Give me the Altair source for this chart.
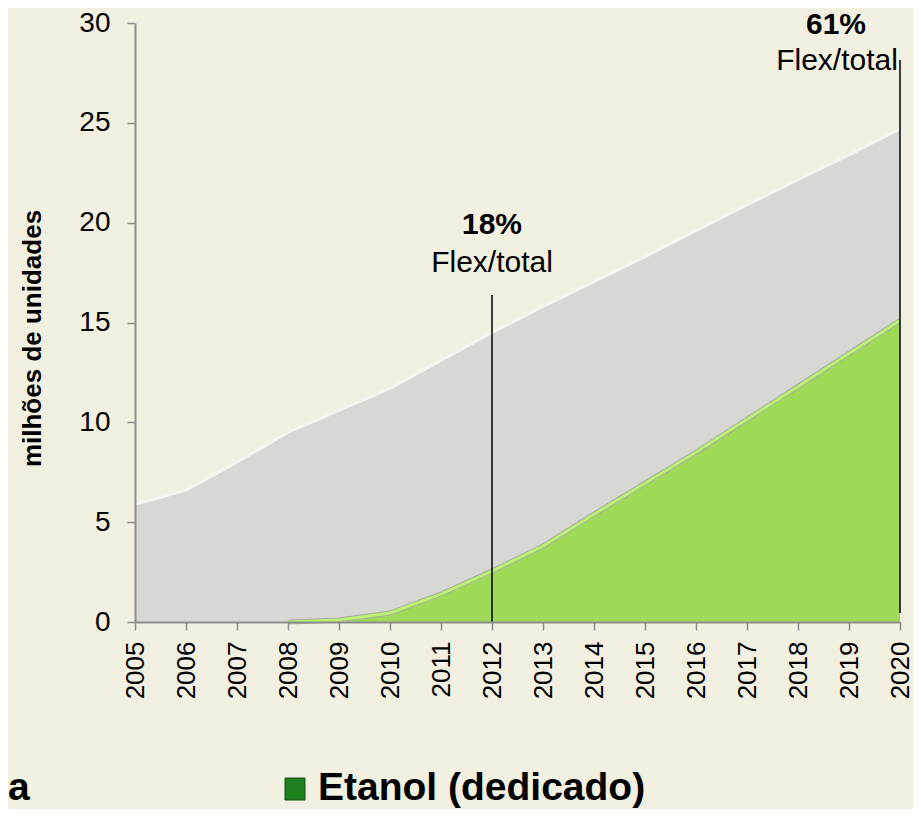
import altair as alt
import pandas as pd

# ---- data ----
years = [2005, 2006, 2007, 2008, 2009, 2010, 2011, 2012,
         2013, 2014, 2015, 2016, 2017, 2018, 2019, 2020]
total_fleet = [5.9, 6.6, 8.0, 9.5, 10.6, 11.7, 13.1, 14.5,
               15.8, 17.05, 18.3, 19.6, 20.9, 22.15, 23.4, 24.7]
flex_fleet = [0.0, 0.0, 0.0, 0.0, 0.1, 0.45, 1.4, 2.55,
              3.8, 5.4, 6.95, 8.5, 10.15, 11.8, 13.45, 15.1]
y_ticks = [0, 5, 10, 15, 20, 25, 30]
ann_years = [2012, 2020]
ann_pct = ["18%", "61%"]
ann_label = ["Flex/total", "Flex/total"]
legend_labels = ["a", "Etanol (dedicado)"]

df = pd.DataFrame({"ano": years, "total": total_fleet, "flex": flex_fleet})
ann = pd.DataFrame({"ano": ann_years, "pct": ann_pct, "label": ann_label})
leg = pd.DataFrame({"label": legend_labels})

W, H = 765, 599
LEFT = 127
FONT = "Liberation Sans, Arial, Helvetica, sans-serif"
NARROW = "Liberation Sans Narrow, Arial Narrow, Liberation Sans, sans-serif"
BG = "#F2F0E0"
AXC = "#8C8C8C"

xscale = alt.Scale(domain=[2005, 2020], nice=False, zero=False)
yscale = alt.Scale(domain=[0, 30], nice=False)

x_axis = alt.Axis(values=years, format="d", labelAngle=-90, labelFont=NARROW,
                  labelFontSize=26, labelColor="#000000", labelPadding=11,
                  tickSize=8, tickColor=AXC, tickWidth=1.5, domainColor=AXC,
                  domainWidth=2, grid=False, title=None, zindex=1,
                  labelOverlap=False)
y_axis = alt.Axis(values=y_ticks, labelFont=FONT, labelFontSize=28,
                  labelColor="#000000", labelPadding=17, tickSize=8,
                  tickColor=AXC, tickWidth=1.5, domainColor=AXC, domainWidth=2,
                  grid=False, zindex=1, title="milhões de unidades",
                  titleFont=FONT, titleFontSize=26, titleFontWeight="bold",
                  titleColor="#000000", titleAngle=-90, titleX=-95, titleY=315,
                  titleAlign="center", titleBaseline="alphabetic")

X = alt.X("ano:Q", scale=xscale, title=None)

base = alt.Chart(df)

gray = base.mark_area(color="#D7D7D3", interpolate="linear").encode(
    x=alt.X("ano:Q", scale=xscale, axis=x_axis),
    y=alt.Y("total:Q", scale=yscale, axis=y_axis),
)
gray_edge = base.mark_line(color="#F4F4F0", strokeWidth=3).encode(
    x=X, y=alt.Y("total:Q", scale=yscale, title="milhões de unidades"),
)
green = base.mark_area(color="#9FDB57", interpolate="linear").encode(
    x=X, y=alt.Y("flex:Q", scale=yscale, title="milhões de unidades"),
)
green_shadow = base.transform_filter("datum.ano >= 2008").mark_line(
    color="#A9A9A4", strokeWidth=5).encode(
    x=X, y=alt.Y("flex:Q", scale=yscale, title="milhões de unidades"),
)
green_edge = base.transform_filter("datum.ano >= 2008").mark_line(
    color="#B9F26E", strokeWidth=3).encode(
    x=X, y=alt.Y("flex:Q", scale=yscale, title="milhões de unidades"),
)

annb = alt.Chart(ann)
a2012 = annb.transform_filter("datum.ano == 2012")
a2020 = annb.transform_filter("datum.ano == 2020")

rule2012 = a2012.mark_rule(color="#000000", strokeWidth=1.5).encode(
    x=X, y=alt.value(272), y2=alt.value(599))
rule2020 = a2020.mark_rule(color="#000000", strokeWidth=1.5).encode(
    x=X, y=alt.value(37), y2=alt.value(590))

pct2012 = a2012.mark_text(font=FONT, fontSize=30, fontWeight="bold", align="center",
                          baseline="alphabetic", dx=0, color="#000000").encode(
    x=X, y=alt.value(211), text="pct:N")
lab2012 = a2012.mark_text(font=FONT, fontSize=30, align="center",
                          baseline="alphabetic", dx=0, color="#000000").encode(
    x=X, y=alt.value(249), text="label:N")
pct2020 = a2020.mark_text(font=FONT, fontSize=30, fontWeight="bold", align="center",
                          baseline="alphabetic", dx=-64, color="#000000").encode(
    x=X, y=alt.value(11), text="pct:N")
lab2020 = a2020.mark_text(font=FONT, fontSize=30, align="center",
                          baseline="alphabetic", dx=-63, color="#000000").encode(
    x=X, y=alt.value(47), text="label:N")

legb = alt.Chart(leg)
leg_a = legb.transform_filter("datum.label == 'a'").mark_text(
    font=FONT, fontSize=39, fontWeight="bold", align="left",
    baseline="alphabetic", color="#000000").encode(
    x=alt.value(-LEFT), y=alt.value(777), text="label:N")
leg_sq = legb.transform_filter("datum.label != 'a'").mark_rect(
    color="#1E7F1E", stroke="#0F5510", strokeWidth=1).encode(
    x=alt.value(150), x2=alt.value(170), y=alt.value(755), y2=alt.value(777))
leg_txt = legb.transform_filter("datum.label != 'a'").mark_text(
    font=FONT, fontSize=39, fontWeight="bold", align="left",
    baseline="alphabetic", color="#000000").encode(
    x=alt.value(183), y=alt.value(777), text="label:N")

chart = alt.layer(
    gray, gray_edge, green, green_shadow, green_edge,
    rule2012, rule2020, pct2012, lab2012, pct2020, lab2020,
    leg_a, leg_sq, leg_txt,
).properties(
    width=W, height=H,
    autosize=alt.AutoSizeParams(type="none"),
    padding={"left": LEFT, "top": 15, "right": 13, "bottom": 187},
    background=BG,
).configure_view(stroke=None)

chart.save("out.html", embed_options={"renderer": "svg", "actions": False})
